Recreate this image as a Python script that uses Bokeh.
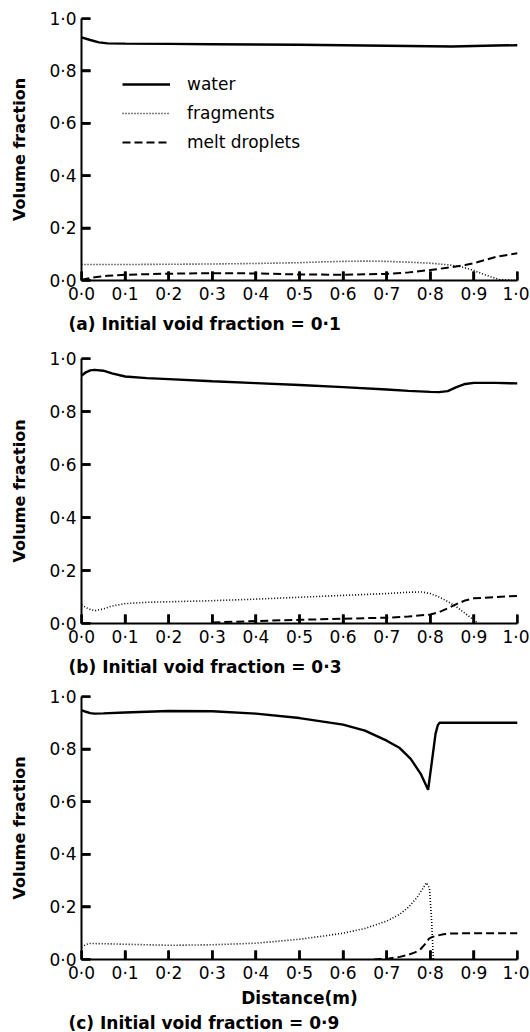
from bokeh.plotting import figure
from bokeh.layouts import column
from bokeh.models import Range1d, FixedTicker, Legend, LegendItem, Title
from bokeh.embed import file_html
from bokeh.resources import INLINE

# ---------------- data ----------------
x_ticks = [0.0, 0.1, 0.2, 0.3, 0.4, 0.5, 0.6, 0.7, 0.8, 0.9, 1.0]
x_tick_labels = ["0·0", "0·1", "0·2", "0·3", "0·4", "0·5", "0·6", "0·7", "0·8", "0·9", "1·0"]
y_ticks = [0.0, 0.2, 0.4, 0.6, 0.8, 1.0]
y_tick_labels = ["0·0", "0·2", "0·4", "0·6", "0·8", "1·0"]

series_names = ["water", "fragments", "melt droplets"]
captions = ["(a) Initial void fraction = 0·1",
            "(b) Initial void fraction = 0·3",
            "(c) Initial void fraction = 0·9"]
y_label = "Volume fraction"
x_label = "Distance(m)"

# panel (a): initial void fraction 0.1
water_a_x = [0.0, 0.02, 0.04, 0.06, 0.1, 0.2, 0.3, 0.4, 0.5, 0.6, 0.7, 0.8, 0.85, 0.9, 0.95, 1.0]
water_a_y = [0.928, 0.918, 0.909, 0.905, 0.904, 0.903, 0.902, 0.901, 0.900, 0.898, 0.896, 0.894, 0.893, 0.895, 0.897, 0.898]
frag_a_x = [0.0, 0.1, 0.2, 0.3, 0.4, 0.5, 0.55, 0.6, 0.65, 0.7, 0.75, 0.8, 0.84, 0.87, 0.9, 0.93, 0.96, 1.0]
frag_a_y = [0.061, 0.061, 0.062, 0.063, 0.065, 0.068, 0.071, 0.073, 0.074, 0.073, 0.070, 0.066, 0.060, 0.053, 0.038, 0.019, 0.003, 0.0]
melt_a_x = [0.0, 0.03, 0.06, 0.1, 0.2, 0.3, 0.4, 0.5, 0.6, 0.7, 0.75, 0.8, 0.85, 0.88, 0.9, 0.95, 1.0]
melt_a_y = [0.003, 0.012, 0.018, 0.022, 0.026, 0.028, 0.027, 0.023, 0.022, 0.025, 0.031, 0.040, 0.051, 0.059, 0.066, 0.090, 0.104]

# panel (b): initial void fraction 0.3
water_b_x = [0.0, 0.01, 0.02, 0.03, 0.05, 0.07, 0.1, 0.15, 0.2, 0.3, 0.4, 0.5, 0.6, 0.7, 0.75, 0.8, 0.82, 0.84, 0.86, 0.88, 0.9, 0.95, 1.0]
water_b_y = [0.935, 0.948, 0.955, 0.957, 0.954, 0.944, 0.932, 0.926, 0.922, 0.914, 0.907, 0.900, 0.892, 0.883, 0.878, 0.874, 0.873, 0.877, 0.892, 0.904, 0.908, 0.908, 0.906]
frag_b_x = [0.0, 0.015, 0.03, 0.05, 0.07, 0.1, 0.15, 0.2, 0.3, 0.4, 0.5, 0.6, 0.7, 0.75, 0.78, 0.8, 0.82, 0.84, 0.86, 0.88, 0.9, 0.91]
frag_b_y = [0.070, 0.056, 0.048, 0.055, 0.066, 0.075, 0.080, 0.082, 0.086, 0.092, 0.099, 0.106, 0.113, 0.118, 0.119, 0.113, 0.100, 0.083, 0.063, 0.038, 0.013, 0.0]
melt_b_x = [0.3, 0.4, 0.5, 0.6, 0.7, 0.75, 0.8, 0.82, 0.84, 0.86, 0.88, 0.9, 0.95, 1.0]
melt_b_y = [0.004, 0.009, 0.014, 0.018, 0.022, 0.026, 0.034, 0.043, 0.057, 0.073, 0.087, 0.095, 0.100, 0.104]

# panel (c): initial void fraction 0.9
water_c_x = [0.0, 0.01, 0.02, 0.03, 0.05, 0.1, 0.2, 0.3, 0.4, 0.5, 0.6, 0.65, 0.7, 0.73, 0.755, 0.778, 0.795, 0.803, 0.812, 0.817, 0.821, 0.85, 0.9, 1.0]
water_c_y = [0.948, 0.942, 0.937, 0.935, 0.936, 0.939, 0.945, 0.944, 0.935, 0.918, 0.893, 0.870, 0.832, 0.804, 0.763, 0.706, 0.645, 0.745, 0.858, 0.890, 0.900, 0.900, 0.900, 0.900]
frag_c_x = [0.0, 0.01, 0.02, 0.05, 0.1, 0.2, 0.3, 0.4, 0.5, 0.55, 0.6, 0.65, 0.7, 0.73, 0.75, 0.77, 0.785, 0.791, 0.798, 0.803, 0.807]
frag_c_y = [0.047, 0.057, 0.061, 0.060, 0.058, 0.054, 0.056, 0.062, 0.077, 0.088, 0.100, 0.118, 0.146, 0.172, 0.199, 0.237, 0.275, 0.292, 0.272, 0.150, 0.0]
melt_c_x = [0.67, 0.705, 0.73, 0.75, 0.765, 0.778, 0.79, 0.797, 0.805, 0.816, 0.83, 0.846, 0.9, 1.0]
melt_c_y = [0.0, 0.004, 0.010, 0.018, 0.027, 0.040, 0.062, 0.079, 0.086, 0.091, 0.096, 0.099, 0.100, 0.100]

FONT = "DejaVu Sans"
TICK_LEN = 9      # pixels
FRAME_W = 436


def make_panel(fh, top, bottom, caption, water, frag, melt, xlabel=None, cap_standoff=10):
    p = figure(frame_width=FRAME_W, frame_height=fh,
               x_range=Range1d(0, 1), y_range=Range1d(0, 1),
               output_backend="svg", toolbar_location=None,
               min_border_left=81, min_border_right=12,
               min_border_top=top, min_border_bottom=bottom)
    p.outline_line_color = None
    p.xgrid.visible = False
    p.ygrid.visible = False
    p.background_fill_color = "white"
    p.border_fill_color = "white"

    for ax, ticks, labels in ((p.xaxis, x_ticks, x_tick_labels), (p.yaxis, y_ticks, y_tick_labels)):
        ax.ticker = FixedTicker(ticks=ticks)
        ax.major_label_overrides = dict(zip(ticks, labels))
        ax.minor_tick_line_color = None
        ax.major_tick_in = TICK_LEN
        ax.major_tick_out = 0
        ax.major_tick_line_width = 2.5
        ax.major_tick_line_color = "black"
        ax.axis_line_width = 2
        ax.axis_line_color = "black"
        ax.major_label_text_font = FONT
        ax.major_label_text_font_size = "17px"
        ax.major_label_text_color = "black"
        ax.major_label_standoff = 3
    p.yaxis.major_label_standoff = 5
    p.yaxis.axis_label = y_label
    p.yaxis.axis_label_text_font = FONT
    p.yaxis.axis_label_text_font_style = "bold"
    p.yaxis.axis_label_text_font_size = "16px"
    p.yaxis.axis_label_text_color = "black"
    p.yaxis.axis_label_standoff = 17
    if xlabel:
        p.xaxis.axis_label = xlabel
        p.xaxis.axis_label_text_font = FONT
        p.xaxis.axis_label_text_font_style = "bold"
        p.xaxis.axis_label_text_font_size = "17px"
        p.xaxis.axis_label_text_color = "black"
        p.xaxis.axis_label_standoff = 2

    # inward tick marks drawn as short segments from the axes at the tick values
    p.segment(x0=x_ticks, y0=[0.0] * len(x_ticks), x1=x_ticks, y1=[TICK_LEN / fh] * len(x_ticks),
              line_color="black", line_width=2.5)
    p.segment(x0=[0.0] * len(y_ticks), y0=y_ticks, x1=[TICK_LEN / FRAME_W] * len(y_ticks), y1=y_ticks,
              line_color="black", line_width=2.5)

    rw = p.line(water[0], water[1], line_color="black", line_width=2.4)
    rf = p.line(frag[0], frag[1], line_color="black", line_width=1.6, line_dash="1 2")
    rm = p.line(melt[0], melt[1], line_color="black", line_width=2.0, line_dash="8 4")

    p.add_layout(Title(text=caption, align="left", offset=-13, standoff=cap_standoff,
                       text_font=FONT, text_font_style="bold", text_font_size="17px",
                       text_color="black"), "below")
    return p, (rw, rf, rm)


pa, ra = make_panel(262, 18, 62, captions[0], (water_a_x, water_a_y), (frag_a_x, frag_a_y), (melt_a_x, melt_a_y))
pb, rb = make_panel(265, 16, 61, captions[1], (water_b_x, water_b_y), (frag_b_x, frag_b_y), (melt_b_x, melt_b_y))
pc, rc = make_panel(263, 12, 70, captions[2], (water_c_x, water_c_y), (frag_c_x, frag_c_y), (melt_c_x, melt_c_y), xlabel=x_label, cap_standoff=0)

legend = Legend(items=[LegendItem(label=n, renderers=[r]) for n, r in zip(series_names, ra)],
                location=(41, 128), padding=0, margin=0,
                border_line_color=None, background_fill_alpha=0,
                glyph_width=48, glyph_height=20, label_height=20, spacing=9,
                label_standoff=17, label_text_font=FONT, label_text_font_size="17px",
                label_text_color="black")
pa.add_layout(legend)

layout = column(pa, pb, pc, spacing=0)
open("out.html", "w").write(file_html(layout, INLINE))
